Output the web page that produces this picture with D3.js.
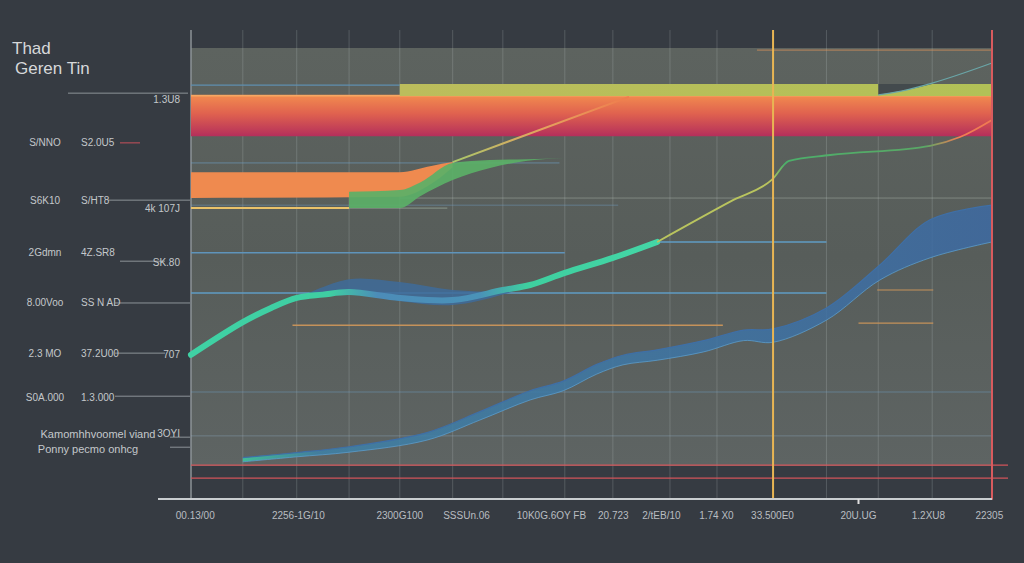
<!DOCTYPE html>
<html><head><meta charset="utf-8">
<script src="https://cdn.jsdelivr.net/npm/d3@7"></script>
<style>html,body{margin:0;padding:0;background:#363b42;overflow:hidden}</style>
</head><body><svg id="c" width="1024" height="563"></svg>
<script>
// ---------------- data ----------------
const titleLines = ["Thad", "Geren Tin"];
const gridX = [0, 0.97, 1.98, 2.96, 3.91, 4.9, 5.84, 7.0, 7.9, 8.97, 9.85, 10.9, 11.9, 12.87, 13.88, 15];
const xTickPos = [0.07, 2.0, 3.9, 5.15, 6.74, 7.9, 8.8, 9.83, 10.88, 12.49, 13.8, 14.94];
const xTickLabels = ["00.13/00", "2256-1G/10", "2300G100", "SSSUn.06", "10K0G.6OY FB", "20.723", "2/tEB/10", "1.74 X0", "33.500E0", "20U.UG", "1.2XU8", "22305"];
const yLabelVals = [77.3, 63.6, 51.0, 39.0, 27.0, 16.5];
const yLabelsA = ["S/NNO", "S6K10", "2Gdmn", "8.00Voo", "2.3 MO", "S0A.000"];
const yLabelsB = ["S2.0U5", "S/HT8", "4Z.SR8", "SS N AD", "37.2U00", "1.3.000"];
const yLabelCVals = [87.6, 61.5, 48.6, 26.6, 7.7];
const yLabelsC = ["1.3U8", "4k 107J", "SK.80", "707", "3OYI"];
const legendLabels = ["Kamomhhvoomel viand", "Ponny pecmo onhcg"];
const legendVals = [7.7, 4.1];
const leftTickVals = [89.2, 77.3, 63.6, 49.0, 39.0, 27.0, 16.7, 6.9, 4.5];

// bands
const redBandX = [0, 15], redBandLo = [78.9, 78.9], redBandHi = [88.8, 88.8];
const yellowBandX = [3.91, 15], yellowBandLo = [88.5, 88.5], yellowBandHi = [91.4, 91.4];
const notchX = [12.87, 13.3, 13.88], notchLo = [88.8, 89.7, 91.4], notchHi = [91.4, 91.4, 91.4];
const notchLineX = [12.87, 13.3, 13.88, 15], notchLineV = [88.8, 89.7, 91.6, 96.4];
const orangeX = [0, 3.91, 4.5, 4.9], orangeLo = [64.1, 64.4, 67.5, 71.5], orangeHi = [70.3, 70.3, 71.8, 72.7];
const greenX = [2.96, 3.91, 4.3, 4.9, 5.6, 6.3, 7.0], greenLo = [61.7, 61.7, 64.6, 68.4, 71.3, 73.0, 73.7], greenHi = [65.6, 66.0, 67.9, 72.5, 73.2, 73.4, 73.7];
const diagX = [4.9, 8.2], diagV = [72.7, 88.3];
// series
const tealX = [0, 0.97, 1.5, 1.98, 2.47, 2.96, 3.91, 4.9, 5.84, 6.35, 7.0, 7.9, 8.73];
const tealV = [26.6, 34.4, 37.8, 40.2, 41.0, 41.6, 40.2, 39.7, 42.1, 43.3, 46.2, 49.8, 53.6];
const tealBandX = [2.2, 2.96, 3.91, 4.9, 5.84, 6.35], tealBandLo = [40.7, 41.6, 39.5, 38.5, 41.0, 43.3], tealBandHi = [41.4, 44.7, 44.0, 42.1, 41.9, 43.3];
const thinX = [8.73, 10.15, 10.88, 11.2, 11.97, 13.84, 14.4, 15];
const thinV = [53.6, 63.6, 68.5, 73.0, 74.4, 76.6, 78.7, 82.8];
const blueX = [0.97, 1.98, 2.96, 4.42, 5.41, 6.35, 6.97, 7.6, 8.09, 8.73, 9.6, 10.35, 10.9, 11.9, 12.9, 13.84, 15];
const blueLo = [1.0, 2.2, 3.3, 6.2, 11.0, 15.8, 18.0, 22.0, 24.2, 25.3, 27.3, 30.0, 29.6, 34.9, 44.5, 49.8, 53.6];
const blueHi = [2.0, 3.2, 4.6, 8.0, 13.0, 18.0, 20.3, 24.3, 26.5, 27.8, 30.0, 32.5, 32.8, 37.8, 48.1, 58.9, 62.4];
// reference lines
const hLineV  = [99.5, 91.1, 72.5, 64.1, 62.4, 61.7, 61.7, 53.6, 51.0, 41.4, 33.7, 42.1, 34.2, 17.7, 7.2, 0.2, -2.9];
const hLineX0 = [10.6, 0, 0, 3.91, 0, 0, 2.96, 8.73, 0, 0, 1.9, 12.85, 12.5, 0, 0, 0, 0];
const hLineX1 = [15, 3.91, 6.9, 15, 8, 2.96, 4.8, 11.9, 7.0, 11.9, 9.96, 13.9, 13.9, 15, 15, 15.3, 15.3];
const markerX = [10.9, 15];

// ---------------- styles ----------------
const hLineColor = ["rgba(230,150,90,0.7)", "#5f8fb0", "rgba(110,160,200,0.6)", "rgba(200,210,200,0.35)", "rgba(110,160,200,0.45)", "#e9c26a", "rgba(200,220,200,0.45)", "#5f9cc4", "#5f94bb", "#5f9cc4", "#c5925a", "#c5925a", "#c5925a", "rgba(110,160,200,0.45)", "rgba(150,180,210,0.35)", "#d2545a", "#d2545a"];
const hLineW = [1, 1.2, 1, 1, 1, 2, 1, 1.5, 1.5, 1.5, 1.5, 1.2, 1.2, 1, 1, 1.2, 1.2];
const markerColor = ["#e8b553", "#d85b5e"];

const svg = d3.select("#c");
const x = d3.scaleLinear().domain([0, 15]).range([191, 992]);
const y = d3.scaleLinear().domain([0, 100]).range([466, 48]);
const defs = svg.append("defs");
const font = "'Liberation Sans', Arial, sans-serif";

svg.append("rect").attr("width", 1024).attr("height", 563).attr("fill", "#363b42");

// plot background
const pg = defs.append("linearGradient").attr("id", "pg").attr("x1", 0).attr("y1", 0).attr("x2", 0).attr("y2", 1);
pg.append("stop").attr("offset", 0).attr("stop-color", "#5d635f");
pg.append("stop").attr("offset", 0.5).attr("stop-color", "#575d5a");
pg.append("stop").attr("offset", 1).attr("stop-color", "#5e6463");
svg.append("rect").attr("x", x(0)).attr("y", y(100)).attr("width", x(15) - x(0)).attr("height", y(0) - y(100)).attr("fill", "url(#pg)");

// grid
svg.append("g").selectAll("line").data(gridX).join("line")
  .attr("x1", d => x(d)).attr("x2", d => x(d)).attr("y1", y(104.3)).attr("y2", y(-7.9))
  .attr("stroke", (d, i) => i === 0 ? "#8d9397" : "rgba(195,205,205,0.22)")
  .attr("stroke-width", (d, i) => i === 0 ? 1.5 : 1);

// horizontal reference lines
svg.append("g").selectAll("line").data(hLineV).join("line")
  .attr("x1", (d, i) => x(hLineX0[i])).attr("x2", (d, i) => x(hLineX1[i]))
  .attr("y1", d => y(d)).attr("y2", d => y(d))
  .attr("stroke", (d, i) => hLineColor[i]).attr("stroke-width", (d, i) => hLineW[i]);

const smooth = d3.curveCatmullRom.alpha(0.5);
function band(xs, lo, hi, c) { return d3.area().curve(c || d3.curveMonotoneX).x((d, i) => x(xs[i])).y0((d, i) => y(lo[i])).y1((d, i) => y(hi[i]))(xs); }
function path(xs, vs, c) { return d3.line().curve(c || d3.curveMonotoneX).x((d, i) => x(xs[i])).y((d, i) => y(vs[i]))(xs); }

// red band
const rg = defs.append("linearGradient").attr("id", "rg").attr("x1", 0).attr("y1", 0).attr("x2", 0).attr("y2", 1);
rg.append("stop").attr("offset", 0).attr("stop-color", "#f28c4f");
rg.append("stop").attr("offset", 0.45).attr("stop-color", "#e0624f");
rg.append("stop").attr("offset", 1).attr("stop-color", "#b42f5b");
svg.append("path").attr("d", band(redBandX, redBandLo, redBandHi)).attr("fill", "url(#rg)");
svg.append("line").attr("x1", x(0)).attr("x2", x(15)).attr("y1", y(88.6)).attr("y2", y(88.6)).attr("stroke", "#f6a763").attr("stroke-width", 1.5);

// yellow band
const yg = defs.append("linearGradient").attr("id", "yg").attr("x1", 0).attr("y1", 0).attr("x2", 1).attr("y2", 0);
yg.append("stop").attr("offset", 0).attr("stop-color", "#bcbd5c");
yg.append("stop").attr("offset", 1).attr("stop-color", "#b2c157");
svg.append("path").attr("d", band(yellowBandX, yellowBandLo, yellowBandHi)).attr("fill", "url(#yg)");
svg.append("path").attr("d", band(notchX, notchLo, notchHi)).attr("fill", "#434a4d");
svg.append("path").attr("d", path(notchLineX, notchLineV)).attr("fill", "none").attr("stroke", "#6aa6a8").attr("stroke-width", 1.2);

// orange band & green wedge
svg.append("path").attr("d", band(orangeX, orangeLo, orangeHi)).attr("fill", "#ef8a4f");
svg.append("path").attr("d", band(greenX, greenLo, greenHi)).attr("fill", "#5bb067").attr("opacity", 0.92);

// diagonal line
const dg = defs.append("linearGradient").attr("id", "dg").attr("gradientUnits", "userSpaceOnUse")
  .attr("x1", x(diagX[0])).attr("x2", x(diagX[1])).attr("y1", 0).attr("y2", 0);
dg.append("stop").attr("offset", 0).attr("stop-color", "#a9c86a");
dg.append("stop").attr("offset", 0.5).attr("stop-color", "#e3a35e");
dg.append("stop").attr("offset", 1).attr("stop-color", "#f07c4d");
svg.append("path").attr("d", d3.line().x((d, i) => x(diagX[i])).y((d, i) => y(diagV[i]))(diagX))
  .attr("fill", "none").attr("stroke", "url(#dg)").attr("stroke-width", 2);

// lower blue band
const bg = defs.append("linearGradient").attr("id", "bg").attr("gradientUnits", "userSpaceOnUse")
  .attr("x1", x(0.97)).attr("x2", x(15)).attr("y1", 0).attr("y2", 0);
bg.append("stop").attr("offset", 0).attr("stop-color", "#3ccaa2");
bg.append("stop").attr("offset", 0.1).attr("stop-color", "#3e82a8");
bg.append("stop").attr("offset", 1).attr("stop-color", "#3d6aa3");
svg.append("path").attr("d", band(blueX, blueLo, blueHi, smooth)).attr("fill", "url(#bg)").attr("opacity", 0.85);
svg.append("path").attr("d", path(blueX, blueLo, smooth)).attr("fill", "none").attr("stroke", "#5a9ccc").attr("stroke-width", 1).attr("opacity", 0.8);
svg.append("path").attr("d", path(blueX, blueHi, smooth)).attr("fill", "none").attr("stroke", "#3f6fa6").attr("stroke-width", 1.2);

// teal series
svg.append("path").attr("d", band(tealBandX, tealBandLo, tealBandHi, smooth)).attr("fill", "#3e6b9a").attr("opacity", 0.85);
const tg = defs.append("linearGradient").attr("id", "tg").attr("gradientUnits", "userSpaceOnUse")
  .attr("x1", x(0)).attr("x2", x(8.73)).attr("y1", 0).attr("y2", 0);
tg.append("stop").attr("offset", 0).attr("stop-color", "#3fd1a4");
tg.append("stop").attr("offset", 0.3).attr("stop-color", "#3fcea2");
tg.append("stop").attr("offset", 0.4).attr("stop-color", "#4c8cb8");
tg.append("stop").attr("offset", 0.62).attr("stop-color", "#4a92b8");
tg.append("stop").attr("offset", 0.72).attr("stop-color", "#3ecf9f");
tg.append("stop").attr("offset", 1).attr("stop-color", "#44d6a6");
svg.append("path").attr("d", path(tealX, tealV, smooth)).attr("fill", "none").attr("stroke", "url(#tg)").attr("stroke-width", 6).attr("stroke-linecap", "round");

// thin continuing line
const lg = defs.append("linearGradient").attr("id", "lg").attr("gradientUnits", "userSpaceOnUse")
  .attr("x1", x(8.73)).attr("x2", x(15)).attr("y1", 0).attr("y2", 0);
lg.append("stop").attr("offset", 0).attr("stop-color", "#b9c45e");
lg.append("stop").attr("offset", 0.34).attr("stop-color", "#b9c45e");
lg.append("stop").attr("offset", 0.38).attr("stop-color", "#4caf6a");
lg.append("stop").attr("offset", 0.8).attr("stop-color", "#5aa866");
lg.append("stop").attr("offset", 0.9).attr("stop-color", "#ef7e52");
lg.append("stop").attr("offset", 1).attr("stop-color", "#f07a52");
svg.append("path").attr("d", path(thinX, thinV)).attr("fill", "none").attr("stroke", "url(#lg)").attr("stroke-width", 1.8);

// vertical marker lines
svg.append("g").selectAll("line").data(markerX).join("line")
  .attr("x1", d => x(d)).attr("x2", d => x(d)).attr("y1", y(104.3)).attr("y2", y(-8.1))
  .attr("stroke", (d, i) => markerColor[i]).attr("stroke-width", 2);

// x axis
svg.append("line").attr("x1", 158).attr("x2", x(15)).attr("y1", y(-7.9)).attr("y2", y(-7.9)).attr("stroke", "#c9cdd0").attr("stroke-width", 2);
svg.append("line").attr("x1", x(12.5)).attr("x2", x(12.5)).attr("y1", y(-7.9)).attr("y2", y(-7.9) + 5).attr("stroke", "#e0e0e0").attr("stroke-width", 2);
const xAxis = d3.axisBottom(x).tickValues(xTickPos).tickSize(0).tickPadding(0)
  .tickFormat((d, i) => xTickLabels[i]);
const gx = svg.append("g").attr("transform", `translate(0,${y(-7.9) + 20})`).call(xAxis);
gx.select(".domain").remove();
gx.selectAll("text").attr("fill", "#b9bdc1").attr("font-size", 10).attr("font-family", font).attr("dy", 0);

// left tick lines
const leftSpan = [[68, 188], [120, 140], [108, 190], [120, 165], [115, 190], [115, 165], [115, 190], [170, 190], [170, 190]];
svg.append("g").selectAll("line").data(leftTickVals).join("line")
  .attr("x1", (d, i) => leftSpan[i][0]).attr("x2", (d, i) => leftSpan[i][1])
  .attr("y1", d => y(d)).attr("y2", d => y(d))
  .attr("stroke", (d, i) => i === 1 ? "#c8505a" : "#8d9398").attr("stroke-width", 1);

// y labels
const lab = svg.append("g").attr("font-family", font).attr("fill", "#c4c8cb").attr("font-size", 10);
lab.selectAll(".a").data(yLabelsA).join("text").attr("class", "a")
  .attr("x", 45).attr("y", (d, i) => y(yLabelVals[i])).attr("dy", "0.35em").attr("text-anchor", "middle").text(d => d);
lab.selectAll(".b").data(yLabelsB).join("text").attr("class", "b")
  .attr("x", 81).attr("y", (d, i) => y(yLabelVals[i])).attr("dy", "0.35em").attr("text-anchor", "start").text(d => d);
lab.selectAll(".c").data(yLabelsC).join("text").attr("class", "c")
  .attr("x", 180).attr("y", (d, i) => y(yLabelCVals[i])).attr("dy", "0.35em").attr("text-anchor", "end").text(d => d);
lab.selectAll(".l").data(legendLabels).join("text").attr("class", "l")
  .attr("x", (d, i) => i === 0 ? 98 : 88).attr("y", (d, i) => y(legendVals[i])).attr("dy", "0.35em")
  .attr("text-anchor", "middle").attr("font-size", 11).text(d => d);

// title
svg.append("g").selectAll("text").data(titleLines).join("text")
  .attr("x", (d, i) => i === 0 ? 12 : 15).attr("y", (d, i) => 54 + i * 20)
  .attr("font-family", font).attr("font-size", 17).attr("fill", "#d6d8da").text(d => d);
</script></body></html>
